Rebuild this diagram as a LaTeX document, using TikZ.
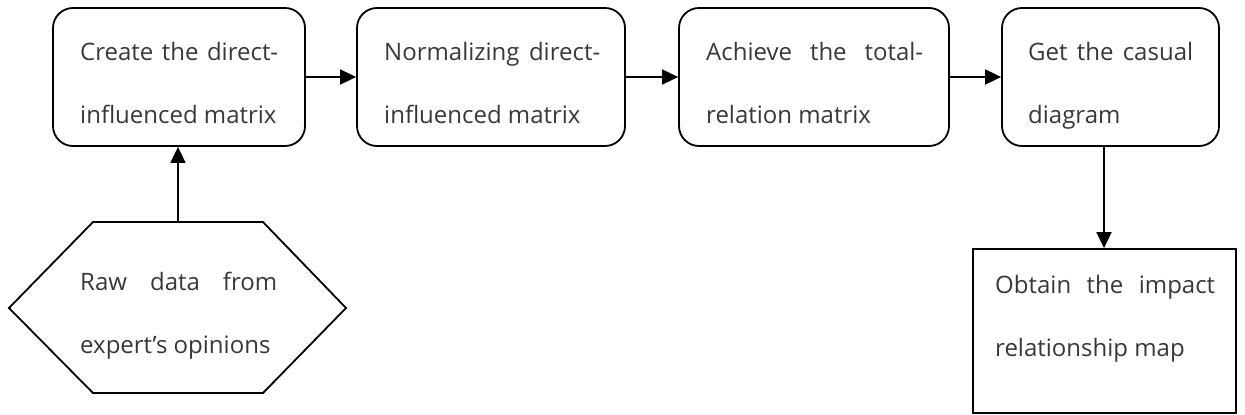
\documentclass[tikz,border=0pt]{standalone}
\usepackage{fontspec}
\setmainfont{Open Sans}
\usetikzlibrary{arrows.meta}
\definecolor{txt}{HTML}{383838}
\newcommand{\twol}[2]{\vtop{\baselineskip=63pt\hbox{#1}\hbox{#2}}}
\tikzset{
  stepbox/.style={draw=black, line width=1.8pt, rounded corners=20pt, inner sep=0pt},
  plainbox/.style={draw=black, line width=1.8pt, inner sep=0pt},
  lbl/.style={anchor=base west, inner sep=0pt, text=txt, font=\fontsize{24}{63}\selectfont},
  arr/.style={draw=black, line width=1.8pt, -{Triangle[length=16pt,width=15pt]}},
  outline/.style={draw=black, line width=1.8pt, line join=miter}
}
\begin{document}
\begin{tikzpicture}[x=1pt,y=-1pt]
\useasboundingbox (0,0) rectangle (1245,415);
% boxes
\node[stepbox, minimum width=252pt, minimum height=138pt] (b1) at (179,77) {};
\node[stepbox, minimum width=268pt, minimum height=138pt] (b2) at (491,77) {};
\node[stepbox, minimum width=270pt, minimum height=138pt] (b3) at (814,77) {};
\node[stepbox, minimum width=217pt, minimum height=138pt] (b4) at (1110.5,77) {};
\node[plainbox, minimum width=263pt, minimum height=164pt] (r5) at (1104.5,331) {};
% hexagon
\draw[outline] (9,308) -- (93,222) -- (263,222) -- (346,308) -- (263,393) -- (93,393) -- cycle;
\coordinate (hx) at (178,222);
\coordinate (a4) at (1104,0);
% texts
\node[lbl] (t1) at (80,60) {\twol{\hbox to 198pt{Create\hfill the\hfill direct-}}{influenced matrix}};
\node[lbl] (t2) at (384,60) {\twol{\hbox to 216pt{Normalizing\hfill direct-}}{influenced matrix}};
\node[lbl] (t3) at (706,60) {\twol{\hbox to 217pt{Achieve\hfill the\hfill total-}}{relation matrix}};
\node[lbl] (t4) at (1028,60) {\twol{\hbox to 165pt{Get\hfill the\hfill casual}}{diagram}};
\node[lbl] (t5) at (80,290) {\twol{\hbox to 197pt{Raw\hfill data\hfill from}}{expert’s opinions}};
\node[lbl] (t6) at (995,293) {\twol{\hbox to 220pt{Obtain\hfill the\hfill impact}}{relationship map}};
% connectors
\draw[arr] (b1.east) -- (b2.west);
\draw[arr] (b2.east) -- (b3.west);
\draw[arr] (b3.east) -- (b4.west);
\draw[arr] (hx) -- (b1.south -| hx);
\draw[arr] (b4.south -| a4) -- (r5.north -| a4);
\end{tikzpicture}
\end{document}
